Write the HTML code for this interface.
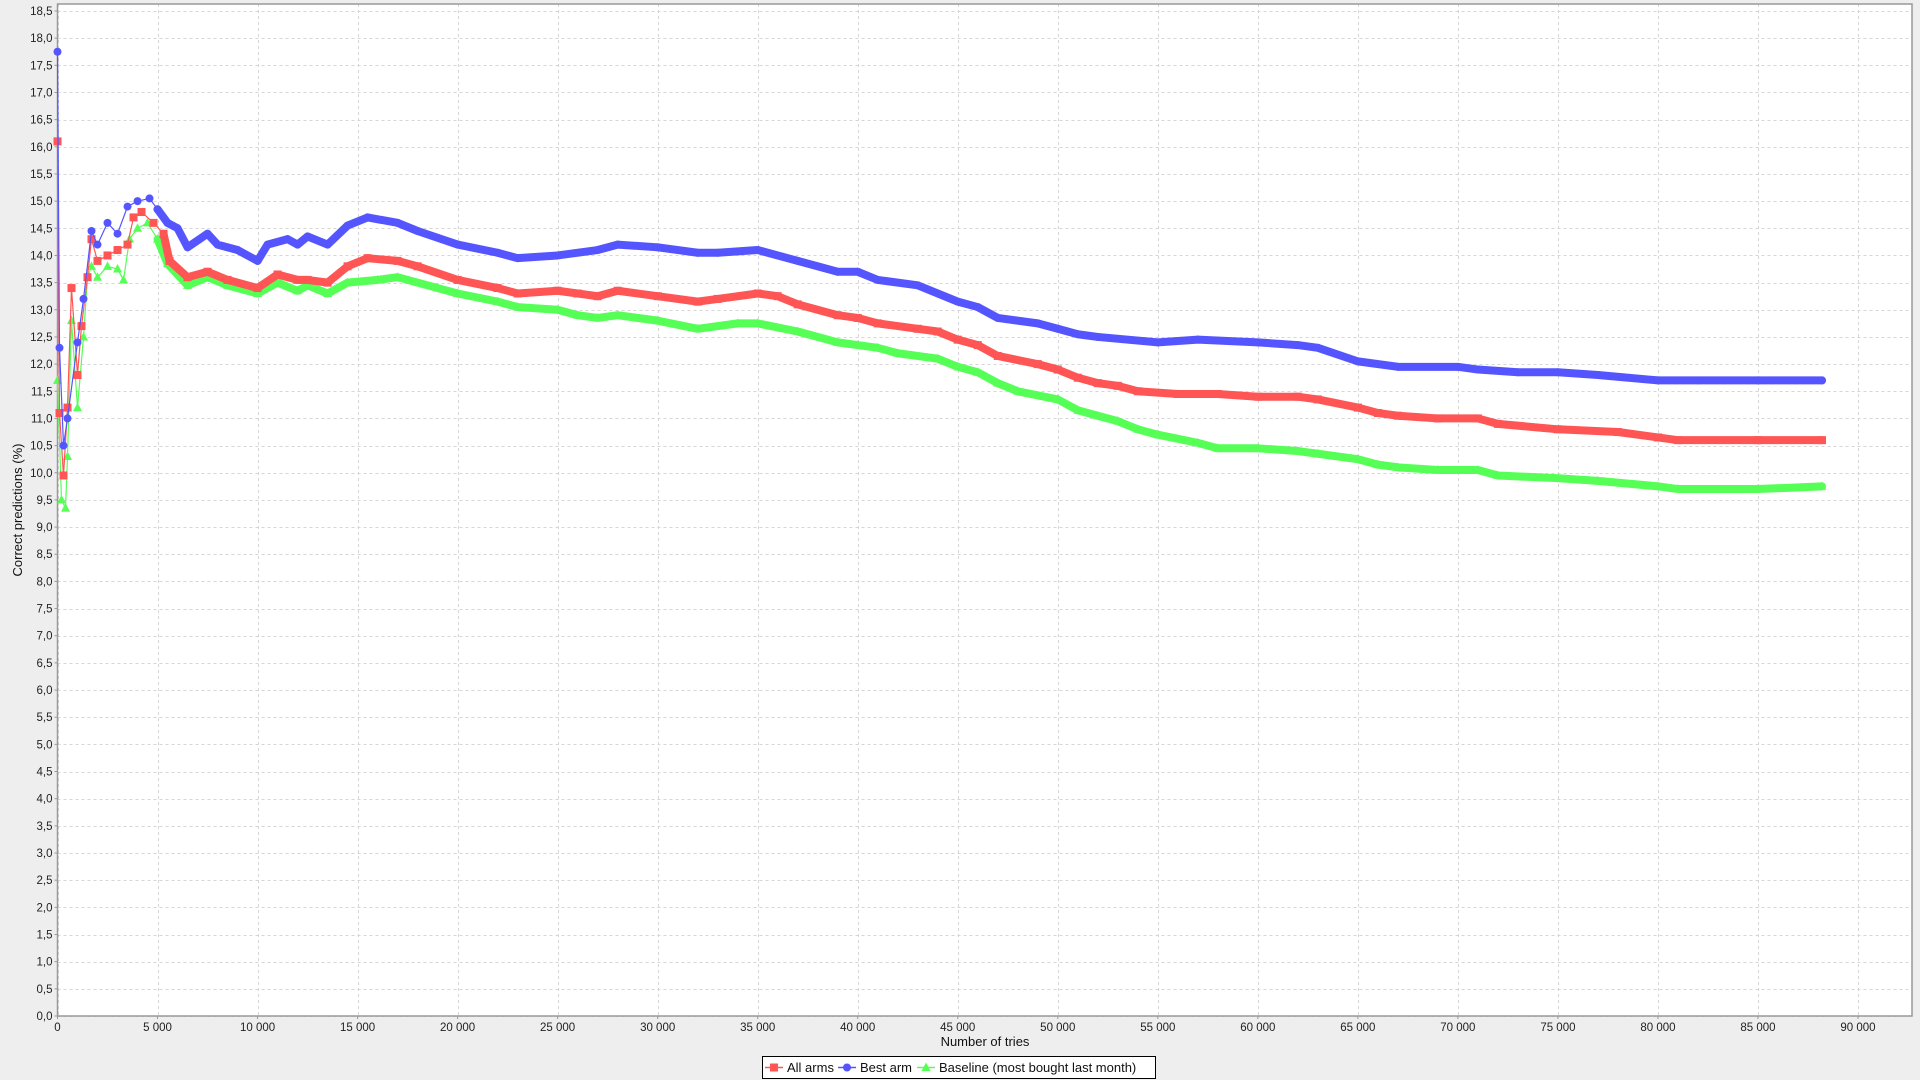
<!DOCTYPE html>
<html><head><meta charset="utf-8">
<style>
html,body{margin:0;padding:0;background:#eeeeee;}
body{width:1920px;height:1080px;overflow:hidden;font-family:"Liberation Sans","DejaVu Sans",sans-serif;}
svg{display:block;}
</style></head>
<body>
<svg id="chart" width="1920" height="1080" xmlns="http://www.w3.org/2000/svg"></svg>
<script>
const xTicks=[0,5000,10000,15000,20000,25000,30000,35000,40000,45000,50000,55000,60000,65000,70000,75000,80000,85000,90000];
const yTicks=[0,0.5,1,1.5,2,2.5,3,3.5,4,4.5,5,5.5,6,6.5,7,7.5,8,8.5,9,9.5,10,10.5,11,11.5,12,12.5,13,13.5,14,14.5,15,15.5,16,16.5,17,17.5,18,18.5];
const blueX=[0,100,300,500,1000,1300,1700,2000,2500,3000,3500,4000,4600,5000,5500,6000,6500,7500,8000,9000,10000,10500,11500,12000,12500,13500,14500,15500,17000,18000,20000,22000,23000,25000,27000,28000,30000,32000,33000,35000,37000,39000,40000,41000,43000,45000,46000,47000,49000,50000,51000,52000,55000,57000,60000,62000,63000,65000,67000,70000,71000,73000,75000,77000,80000,82000,85000,88200];
const blueY=[17.75,12.3,10.5,11.0,12.4,13.2,14.45,14.2,14.6,14.4,14.9,15.0,15.05,14.85,14.6,14.5,14.15,14.4,14.2,14.1,13.9,14.2,14.3,14.2,14.35,14.2,14.55,14.7,14.6,14.45,14.2,14.05,13.95,14.0,14.1,14.2,14.15,14.05,14.05,14.1,13.9,13.7,13.7,13.55,13.45,13.15,13.05,12.85,12.75,12.65,12.55,12.5,12.4,12.45,12.4,12.35,12.3,12.05,11.95,11.95,11.9,11.85,11.85,11.8,11.7,11.7,11.7,11.7];
const redX=[0,100,300,500,700,1000,1200,1500,1700,2000,2500,3000,3500,3800,4200,4800,5300,5600,6500,7500,8500,10000,11000,12000,12500,13500,14500,15500,17000,18000,20000,22000,23000,25000,26000,27000,28000,30000,32000,33000,35000,36000,37000,39000,40000,41000,43000,44000,45000,46000,47000,49000,50000,51000,52000,53000,54000,56000,58000,60000,62000,63000,65000,66000,67000,69000,71000,72000,75000,78000,80000,81000,85000,88200];
const redY=[16.1,11.1,9.95,11.2,13.4,11.8,12.7,13.6,14.3,13.9,14.0,14.1,14.2,14.7,14.8,14.6,14.4,13.9,13.6,13.7,13.55,13.4,13.65,13.55,13.55,13.5,13.8,13.95,13.9,13.8,13.55,13.4,13.3,13.35,13.3,13.25,13.35,13.25,13.15,13.2,13.3,13.25,13.1,12.9,12.85,12.75,12.65,12.6,12.45,12.35,12.15,12.0,11.9,11.75,11.65,11.6,11.5,11.45,11.45,11.4,11.4,11.35,11.2,11.1,11.05,11.0,11.0,10.9,10.8,10.75,10.65,10.6,10.6,10.6];
const greenX=[0,200,400,500,700,1000,1300,1500,1700,2000,2500,3000,3300,3600,4000,4500,5000,5500,6500,7500,8500,10000,11000,12000,12500,13500,14500,16000,17000,19000,20000,22000,23000,25000,26000,27000,28000,30000,32000,34000,35000,37000,39000,40000,41000,42000,44000,45000,46000,47000,48000,50000,51000,52000,53000,54000,55000,57000,58000,60000,62000,63000,65000,66000,67000,69000,71000,72000,75000,77000,80000,81000,85000,88200];
const greenY=[11.7,9.5,9.35,10.3,12.8,11.2,12.5,13.6,13.8,13.6,13.8,13.75,13.55,14.3,14.5,14.6,14.3,13.85,13.45,13.6,13.45,13.3,13.5,13.35,13.45,13.3,13.5,13.55,13.6,13.4,13.3,13.15,13.05,13.0,12.9,12.85,12.9,12.8,12.65,12.75,12.75,12.6,12.4,12.35,12.3,12.2,12.1,11.95,11.85,11.65,11.5,11.35,11.15,11.05,10.95,10.8,10.7,10.55,10.45,10.45,10.4,10.35,10.25,10.15,10.1,10.05,10.05,9.95,9.9,9.85,9.75,9.7,9.7,9.75];

const NS="http://www.w3.org/2000/svg";
const svg=document.getElementById('chart');
const L=57.5,R=1912,T=4,B=1016;
const xMax=92600, yMax=18.6;
function sx(v){return L+(v/90000)*(1858-L);}
function sy(v){return B-(v/18.5)*(B-11);}
function mk(tag,attrs,parent){const e=document.createElementNS(NS,tag);for(const k in attrs)e.setAttribute(k,attrs[k]);(parent||svg).appendChild(e);return e;}

const plot=mk('rect',{x:L,y:T,width:R-L,height:B-T,fill:'#ffffff'});



const grid=mk('g',{stroke:'#d6d6d6','stroke-width':1,'stroke-dasharray':'3,3'});


xTicks.forEach(t=>{const x=Math.round(sx(t))+0.5;mk('line',{x1:x,x2:x,y1:T,y2:B},grid);});
yTicks.forEach(t=>{const y=Math.round(sy(t))+0.5;mk('line',{x1:L,x2:R,y1:y,y2:y},grid);});

const axes=mk('g',{stroke:'#999999','stroke-width':1.5,fill:'none'});


mk('rect',{x:L,y:T,width:R-L,height:B-T},axes);

const xl=mk('g',{'font-size':'11.5',fill:'#222','text-anchor':'middle'});


xTicks.forEach(t=>{
  mk('line',{x1:sx(t),x2:sx(t),y1:B,y2:B+3,stroke:'#999'},xl);
  const tx=mk('text',{x:sx(t),y:B+15},xl);
  tx.textContent=t===0?'0':(t/1000)+' 000';
});
const yl=mk('g',{'font-size':'11.5',fill:'#222','text-anchor':'end'});


yTicks.forEach(t=>{
  mk('line',{x1:L-3,x2:L,y1:sy(t),y2:sy(t),stroke:'#999'},yl);
  const tx=mk('text',{x:L-5,y:sy(t)+4},yl);
  tx.textContent=t.toFixed(1).replace('.',',');
});

const xt=mk('text',{x:985,y:1046,'font-size':'13',fill:'#111','text-anchor':'middle'});
xt.textContent='Number of tries';


const yt=mk('text',{x:0,y:0,'font-size':'13',fill:'#111','text-anchor':'middle',transform:'translate(22,510) rotate(-90)'});
yt.textContent='Correct predictions (%)';



function marker(g,shape,x,y,col){
  if(shape==='square') return mk('rect',{x:x-4,y:y-4,width:8,height:8,fill:col},g);
  if(shape==='circle') return mk('circle',{cx:x,cy:y,r:4,fill:col},g);
  return mk('polygon',{points:`${x},${y-5} ${x+4.5},${y+3.5} ${x-4.5},${y+3.5}`,fill:col},g);
}
function series(name,xs,ys,col,shape){
  const g=mk('g',{});
  
  
  const pts=xs.map((x,i)=>sx(x)+','+sy(ys[i])).join(' ');
  mk('polyline',{points:pts,fill:'none',stroke:col,'stroke-width':1.2},g);
  const dense=xs.map((x,i)=>[x,ys[i]]).filter(p=>p[0]>=5000).map(p=>sx(p[0])+','+sy(p[1])).join(' ');
  mk('polyline',{points:dense,fill:'none',stroke:col,'stroke-width':8,'stroke-linejoin':'round','stroke-linecap':'round'},g);
  xs.forEach((x,i)=>marker(g,shape,sx(x),sy(ys[i]),col));
}
series('series-baseline',greenX,greenY,'#55ff55','triangle');
series('series-all-arms',redX,redY,'#ff5555','square');
series('series-best-arm',blueX,blueY,'#5555ff','circle');

const lg=mk('g',{});


mk('rect',{x:762.5,y:1056.5,width:393,height:22,fill:'#fff',stroke:'#000','stroke-width':1},lg);
const items=[['All arms','#ff5555','square',765],['Best arm','#5555ff','circle',838],['Baseline (most bought last month)','#55ff55','triangle',917]];
items.forEach(([lab,col,sh,x])=>{
  const e=mk('g',{},lg);
  
  
  mk('line',{x1:x,x2:x+18,y1:1067.5,y2:1067.5,stroke:col,'stroke-width':1.5},e);
  marker(e,sh,x+9,1067.5,col);
  const t=mk('text',{x:x+22,y:1072,'font-size':'13',fill:'#111'},e);
  t.textContent=lab;
});
</script>
</body></html>
